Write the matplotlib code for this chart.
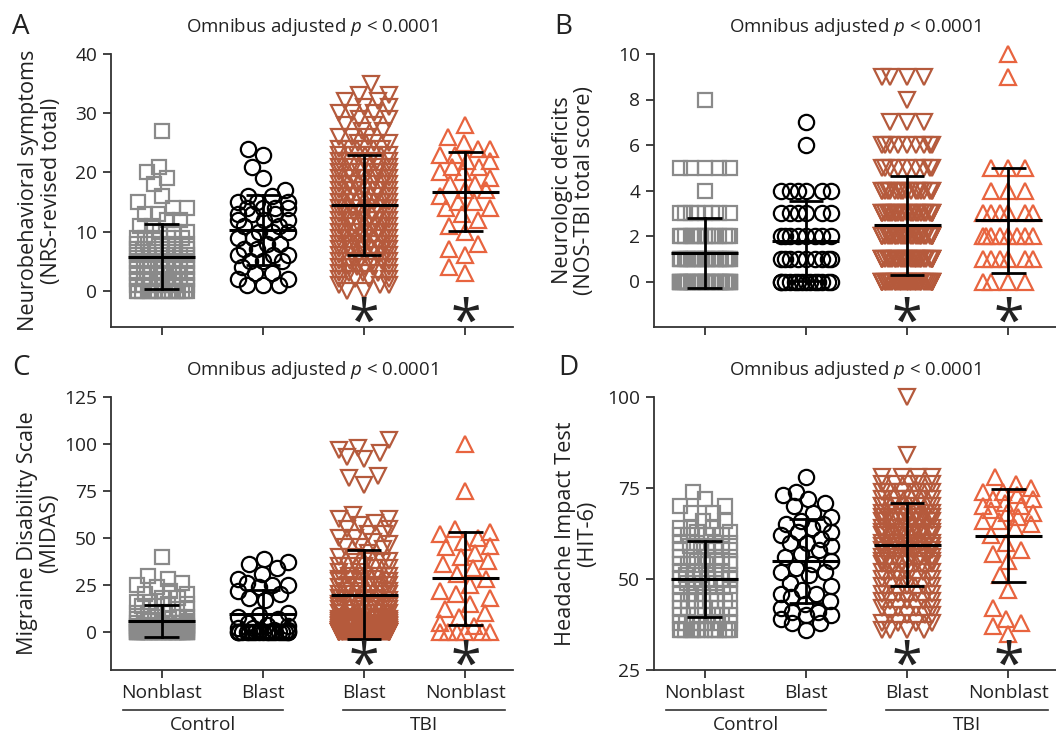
import numpy as np
import matplotlib
matplotlib.use('Agg')
import matplotlib.pyplot as plt

plt.rcParams['font.family'] = 'Open Sans'
plt.rcParams['mathtext.fontset'] = 'custom'
plt.rcParams['mathtext.rm'] = 'Open Sans'
plt.rcParams['mathtext.it'] = 'Open Sans:italic'

# ---- data ----
group_labels = ['Nonblast', 'Blast', 'Blast', 'Nonblast']

# A: NRS-revised total
nrs_cn_vals = [0, 1, 2, 3, 4, 5, 6, 7, 8, 9, 10, 11, 12, 13, 14, 15, 16, 18, 19, 20, 21, 27]
nrs_cn_counts = [16, 8, 8, 7, 7, 7, 6, 6, 5, 5, 3, 2, 2, 2, 2, 1, 1, 1, 1, 1, 1, 1]
nrs_cb = [24, 23, 21, 19, 17, 16, 16, 15, 15, 15, 14, 14, 14, 14, 13, 13, 13, 12, 12, 12, 11, 11,
          10, 10, 10, 9, 9, 8, 8, 7, 7, 6, 6, 6, 5, 5, 5, 4, 3, 3, 2, 2, 1, 1, 1]
nrs_tb_vals = [0, 1, 2, 3, 4, 5, 6, 7, 8, 9, 10, 11, 12, 13, 14, 15, 16, 17, 18, 19, 20, 21, 22,
               23, 24, 25, 26, 27, 28, 29, 30, 31, 32, 33, 35]
nrs_tb_counts = [2, 3, 4, 5, 6, 6, 6, 6, 7, 7, 7, 7, 7, 7, 7, 7, 6, 6, 6, 5, 5, 5, 5,
                 4, 4, 3, 3, 2, 2, 2, 3, 2, 2, 2, 1]
nrs_tn = [28, 26, 25, 24, 24, 23, 23, 22, 22, 21, 21, 20, 20, 19, 18, 18, 17, 17, 16, 15, 15, 14,
          14, 13, 12, 11, 10, 8, 7, 6, 4, 3]

# B: NOS-TBI total score
nos_cn_vals = [0, 1, 2, 3, 4, 5, 8]
nos_cn_counts = [38, 25, 15, 8, 1, 5, 1]
nos_cb_vals = [0, 1, 2, 3, 4, 6, 7]
nos_cb_counts = [14, 9, 8, 6, 6, 1, 1]
nos_tb_vals = [0, 1, 2, 3, 4, 5, 6, 7, 8, 9]
nos_tb_counts = [34, 30, 28, 25, 18, 9, 9, 3, 1, 4]
nos_tn_vals = [0, 1, 2, 3, 4, 5, 9, 10]
nos_tn_counts = [4, 6, 8, 6, 3, 3, 1, 1]

# C: MIDAS
midas_cn_vals = [0, 1, 2, 3, 4, 5, 6, 7, 8, 10, 12, 14, 15, 16, 18, 20, 22, 24, 25, 26, 28, 30, 40]
midas_cn_counts = [40, 5, 5, 5, 4, 4, 3, 3, 3, 3, 2, 2, 2, 2, 2, 2, 1, 1, 1, 1, 1, 1, 1]
midas_cb = [39, 37, 36, 34, 31, 28, 26, 25, 25, 24, 22, 20, 18, 17, 10, 9, 8, 7, 5, 4, 3, 2, 2,
            1, 1, 1, 0, 0, 0, 0, 0, 0, 0, 0, 0, 0, 0, 0, 0, 0, 0, 0, 0, 0, 0]
midas_tb_vals = [0, 1, 2, 3, 4, 5, 6, 7, 8, 10, 12, 14, 15, 17, 18, 20, 22, 24, 25, 27, 28, 30,
                 32, 34, 35, 37, 38, 40, 42, 44, 45, 47, 48, 50, 52, 55, 57, 58, 60, 62,
                 78, 82, 83, 92, 93, 95, 97, 98, 102]
midas_tb_counts = [35, 6, 6, 6, 5, 7, 4, 4, 4, 6, 5, 4, 5, 3, 3, 5, 3, 3, 4, 3, 3, 4,
                   2, 2, 3, 2, 2, 2, 1, 1, 2, 1, 1, 2, 2, 2, 1, 1, 2, 1,
                   1, 1, 1, 1, 1, 1, 1, 1, 1]
midas_tn = [100, 75, 55, 53, 52, 50, 48, 46, 45, 42, 40, 38, 36, 34, 31, 28, 25, 22, 20, 18, 15,
            12, 10, 8, 5, 3, 0, 0, 0, 0, 0, 0]

# D: HIT-6
hit_cn_vals = [36, 38, 40, 42, 44, 46, 48, 49, 50, 51, 52, 54, 55, 56, 58, 59, 60, 62, 63, 64,
               66, 68, 70, 72, 74]
hit_cn_counts = [14, 7, 5, 5, 5, 5, 5, 3, 5, 3, 4, 4, 3, 4, 4, 3, 4, 4, 2, 3, 2, 2, 2, 1, 1]
hit_cb = [78, 74, 73, 72, 71, 70, 68, 67, 66, 65, 65, 64, 63, 63, 62, 61, 60, 60, 59, 58, 57, 56,
          55, 54, 53, 52, 52, 51, 49, 48, 47, 46, 46, 45, 44, 43, 42, 41, 41, 40, 40, 39, 38, 38, 36]
hit_tb_vals = [36, 38, 40, 42, 44, 46, 48, 50, 52, 54, 55, 56, 58, 59, 60, 62, 63, 64, 66, 67,
               68, 70, 72, 74, 76, 78, 84, 100]
hit_tb_counts = [4, 4, 4, 4, 5, 5, 5, 5, 6, 6, 6, 7, 7, 6, 7, 7, 7, 7, 8, 7, 8, 8, 6, 6, 5, 4, 1, 1]
hit_tn = [78, 76, 75, 74, 74, 73, 72, 72, 71, 70, 70, 69, 68, 68, 67, 66, 66, 65, 64, 62, 60, 58,
          57, 55, 51, 47, 42, 39, 38, 37, 35]


def expand(vals, counts):
    return np.repeat(np.array(vals, dtype=float), counts)


# ---- styling ----
TXT = '#222222'
AX = '#333333'
styles = [
    dict(marker='s', color='#8a8a8a', ms=9.5, d=14),
    dict(marker='o', color='#000000', ms=11, d=16),
    dict(marker='v', color='#b55a3c', ms=12, d=17),
    dict(marker='^', color='#e8643f', ms=12, d=17),
]


def swarm_x(ax, x0, vals, diam, maxw):
    # simple beeswarm in pixel space, clamped to +-maxw
    pts = ax.transData.transform(np.column_stack([np.full(len(vals), x0), vals]))
    ys = pts[:, 1]
    order = np.argsort(ys, kind='stable')
    px, py = [], []
    offs = np.zeros(len(vals))
    grid = np.linspace(-maxw, maxw, 41)
    for i in order:
        y = ys[i]
        blocks = []
        cands = [0.0]
        for a, b in zip(px, py):
            dy = abs(b - y)
            if dy < diam:
                dx = np.sqrt(diam ** 2 - dy ** 2)
                blocks.append((a - dx, a + dx))
                cands += [a - dx, a + dx]
        best = None
        for c in sorted(cands, key=lambda c: (abs(c), c)):
            if abs(c) > maxw + 1e-6:
                continue
            if all(not (lo + 1e-6 < c < hi - 1e-6) for lo, hi in blocks):
                best = c
                break
        if best is None:
            scores = []
            for g in grid:
                s = 0.0
                for a, b in zip(px, py):
                    dist = np.hypot(a - g, b - y)
                    if dist < diam:
                        s += (diam - dist) ** 2
                scores.append(s)
            best = grid[int(np.argmin(scores))]
        offs[i] = best
        px.append(best)
        py.append(y)
    ppu = ax.transData.transform([(1, 0)])[0, 0] - ax.transData.transform([(0, 0)])[0, 0]
    return x0 + offs / ppu


def mean_sd(ax, x0, vals):
    m = np.mean(vals)
    s = np.std(vals, ddof=1)
    ax.plot([x0 - 0.33, x0 + 0.33], [m, m], color='k', lw=2.2, zorder=6, solid_capstyle='butt')
    ax.plot([x0, x0], [m - s, m + s], color='k', lw=2, zorder=6)
    for yy in (m - s, m + s):
        ax.plot([x0 - 0.17, x0 + 0.17], [yy, yy], color='k', lw=2, zorder=6, solid_capstyle='butt')


fig = plt.figure(figsize=(10.56, 7.34), dpi=100)
W, H = 1056, 734
boxes = {
    'A': [111 / W, 1 - 327 / H, 402 / W, 273 / H],
    'B': [654 / W, 1 - 327 / H, 402 / W, 273 / H],
    'C': [111 / W, 1 - 670 / H, 402 / W, 273 / H],
    'D': [654 / W, 1 - 670 / H, 402 / W, 273 / H],
}

panels = [
    ('A', [expand(nrs_cn_vals, nrs_cn_counts), np.array(nrs_cb, float),
           expand(nrs_tb_vals, nrs_tb_counts), np.array(nrs_tn, float)],
     (-6.1, 40), [0, 10, 20, 30, 40], 'Neurobehavioral symptoms\n(NRS-revised total)', -0.177, False),
    ('B', [expand(nos_cn_vals, nos_cn_counts), expand(nos_cb_vals, nos_cb_counts),
           expand(nos_tb_vals, nos_tb_counts), expand(nos_tn_vals, nos_tn_counts)],
     (-2.0, 10), [0, 2, 4, 6, 8, 10], 'Neurologic deficits\n(NOS-TBI total score)', -0.2, False),
    ('C', [expand(midas_cn_vals, midas_cn_counts), np.array(midas_cb, float),
           expand(midas_tb_vals, midas_tb_counts), np.array(midas_tn, float)],
     (-20.2, 125), [0, 25, 50, 75, 100, 125], 'Migraine Disability Scale\n(MIDAS)', -0.18, True),
    ('D', [expand(hit_cn_vals, hit_cn_counts), np.array(hit_cb, float),
           expand(hit_tb_vals, hit_tb_counts), np.array(hit_tn, float)],
     (25, 100), [25, 50, 75, 100], 'Headache Impact Test\n(HIT-6)', -0.192, True),
]

for letter, groups, ylim, yticks, ylabel, labx, show_x in panels:
    ax = fig.add_axes(boxes[letter])
    ax.set_xlim(-0.5, 3.47)
    ax.set_ylim(*ylim)
    ax.spines['top'].set_visible(False)
    ax.spines['right'].set_visible(False)
    for sp in ('left', 'bottom'):
        ax.spines[sp].set_color(AX)
        ax.spines[sp].set_linewidth(1.3)
    ax.set_yticks(yticks)
    ax.set_xticks([0, 1, 2, 3])
    ax.tick_params(direction='out', length=6, width=1.3, color=AX, labelsize=13.8,
                   labelcolor=TXT, pad=4)
    if show_x:
        ax.set_xticklabels(group_labels, fontsize=13.8)
    else:
        ax.set_xticklabels([])

    for k, vals in enumerate(groups):
        st = styles[k]
        xs = swarm_x(ax, k, vals, st['d'], 25)
        ax.plot(xs, vals, linestyle='none', marker=st['marker'], ms=st['ms'], mfc='none',
                mec=st['color'], mew=1.6, clip_on=False, zorder=3)
        mean_sd(ax, k, vals)

    # significance asterisks
    for k in (2, 3):
        ax.text(k, 0.008, '*', transform=ax.get_xaxis_transform(), ha='center', va='center',
                fontsize=40, color=TXT, zorder=7)

    ax.text(0.5, 1.1, 'Omnibus adjusted $p$ < 0.0001', transform=ax.transAxes,
            ha='center', va='center', fontsize=13.4, color=TXT)
    ax.set_ylabel(ylabel, fontsize=15.6, color=TXT, multialignment='center', linespacing=1.1)
    ax.yaxis.set_label_coords(labx, 0.5)
    ax.yaxis.label.set_verticalalignment('center')

    if show_x:
        tr = ax.get_xaxis_transform()
        for x1, x2, name in [(-0.386, 1.2, 'Control'), (1.79, 3.39, 'TBI')]:
            ax.plot([x1, x2], [-0.1465, -0.1465], color=AX, lw=1.2, transform=tr, clip_on=False)
            ax.text((x1 + x2) / 2, -0.2, name, transform=tr, ha='center', va='center',
                    fontsize=13.8, color=TXT)

letters = {'A': (21, 27), 'B': (563, 27), 'C': (21, 368), 'D': (568, 368)}
for letter, (lx, ly) in letters.items():
    fig.text(lx / W, 1 - ly / H, letter, ha='center', va='center', fontsize=20, color=TXT)

fig.savefig('out.png', dpi=100)
